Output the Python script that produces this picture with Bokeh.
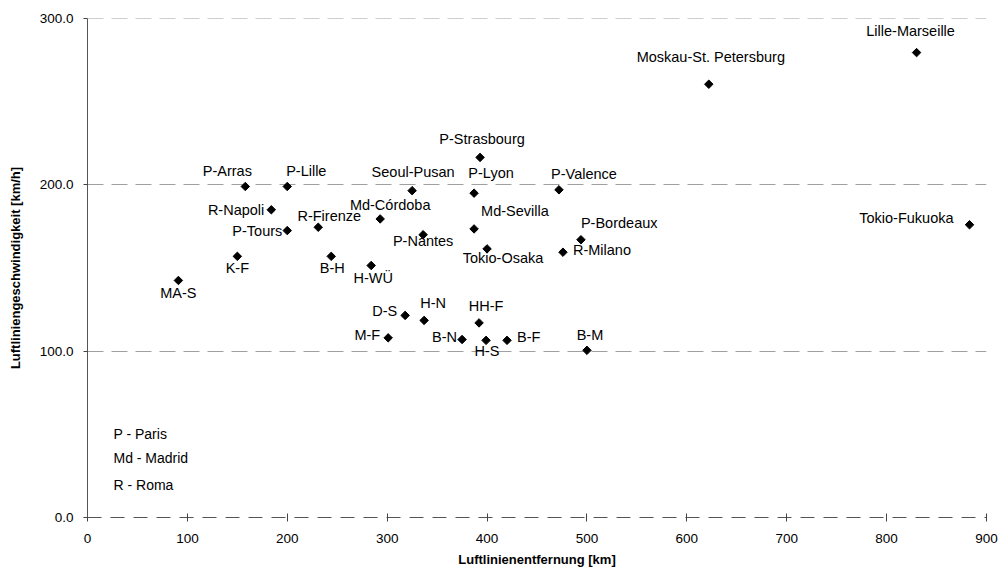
import numpy as np
from bokeh.plotting import figure
from bokeh.models import ColumnDataSource, Range1d, FixedTicker, PrintfTickFormatter, Label, Span
from bokeh.core.properties import value, field
from bokeh.embed import file_html
from bokeh.resources import INLINE

# ---- data ----
routes = ["MA-S", "K-F", "P-Arras", "P-Lille", "R-Napoli", "P-Tours", "R-Firenze", "B-H",
          "Seoul-Pusan", "P-Strasbourg", "P-Lyon", "P-Valence", "Md-Córdoba", "Md-Sevilla",
          "P-Nantes", "P-Bordeaux", "Tokio-Osaka", "R-Milano", "H-WÜ", "D-S", "H-N", "HH-F",
          "M-F", "B-N", "H-S", "B-F", "B-M", "Moskau-St. Petersburg", "Lille-Marseille",
          "Tokio-Fukuoka"]
distance_km = [91, 150, 158, 200, 184, 200, 231, 244,
               325, 393, 387, 472, 293, 387,
               336, 494, 400, 476, 284, 318, 337, 392,
               301, 375, 399, 420, 500, 622, 830,
               883]
speed_kmh = [142.5, 157, 199, 199, 185, 172.5, 174.5, 157,
             196.5, 216.5, 195, 197, 179.5, 173.5,
             170, 167, 161.5, 159.5, 151.5, 121.5, 118.5, 117,
             108, 107, 106.5, 106.5, 100.5, 260.5, 279.5,
             176]
x_ticks = [0, 100, 200, 300, 400, 500, 600, 700, 800, 900]
y_ticks = [0, 100, 200, 300]
notes = ["P - Paris", "Md - Madrid", "R - Roma"]

# ---- label layout (alignment, pixel offsets) ----
label_layout = {
    "MA-S": ("center", 0, 13), "K-F": ("center", 0, 12), "P-Arras": ("center", -18, -15),
    "P-Lille": ("center", 19, -15), "R-Napoli": ("right", -7, 0), "P-Tours": ("right", -5, 0),
    "R-Firenze": ("center", 11, -11), "B-H": ("center", 1, 12), "Seoul-Pusan": ("center", 1, -19),
    "P-Strasbourg": ("center", 2, -18), "P-Lyon": ("center", 17, -20), "P-Valence": ("center", 25, -16),
    "Md-Córdoba": ("center", 10, -14), "Md-Sevilla": ("left", 7, -18), "P-Nantes": ("center", 0, 6),
    "P-Bordeaux": ("left", 0, -17), "Tokio-Osaka": ("center", 16, 9), "R-Milano": ("left", 10, -2),
    "H-WÜ": ("center", 2, 12), "D-S": ("right", -8, -4), "H-N": ("center", 9, -17),
    "HH-F": ("center", 7, -17), "M-F": ("right", -8, -3), "B-N": ("right", -5, -3),
    "H-S": ("center", 1, 11), "B-F": ("left", 10, -3), "B-M": ("center", 3, -15),
    "Moskau-St. Petersburg": ("center", 2, -27), "Lille-Marseille": ("center", -6, -22),
    "Tokio-Fukuoka": ("right", -16, -7),
}

FONT = "Liberation Sans"
GRID_COLOR = "#a0a0a0"
GRID_DASH = "16 8"

src = ColumnDataSource(dict(
    x=distance_km, y=speed_kmh, name=routes,
    align=[label_layout[r][0] for r in routes],
    dx=[label_layout[r][1] for r in routes],
    dy=[label_layout[r][2] for r in routes],
))

p = figure(width=1000, height=571, x_range=Range1d(0, 900), y_range=Range1d(0, 300),
           output_backend="svg", toolbar_location=None,
           min_border_left=87, min_border_right=14, min_border_top=18, min_border_bottom=54)
p.outline_line_color = None
p.background_fill_color = "white"
p.border_fill_color = "white"

p.xgrid.grid_line_color = None
p.ygrid.grid_line_color = GRID_COLOR
p.ygrid.grid_line_dash = GRID_DASH
p.ygrid.grid_line_width = 1
# top gridline at the range end (would otherwise be clipped at frame edge)
p.add_layout(Span(location=y_ticks[-1], dimension="width", line_color=GRID_COLOR,
                  line_dash=GRID_DASH, line_width=1))

p.xaxis.ticker = FixedTicker(ticks=x_ticks)
p.yaxis.ticker = FixedTicker(ticks=y_ticks)
p.yaxis.formatter = PrintfTickFormatter(format="%.1f")
p.xaxis.minor_tick_line_color = None
p.yaxis.minor_tick_line_color = None

p.xaxis.axis_label = "Luftlinienentfernung [km]"
p.yaxis.axis_label = "Luftliniengeschwindigkeit [km/h]"
for ax in (p.xaxis[0], p.yaxis[0]):
    ax.axis_label_text_font = FONT
    ax.axis_label_text_font_style = "bold"
    ax.axis_label_text_font_size = "13px"
    ax.axis_label_text_color = "black"
    ax.major_label_text_font = FONT
    ax.major_label_text_font_size = "13.5px"
    ax.major_label_text_color = "black"
    ax.major_tick_line_color = "#444444"
    ax.axis_line_color = "#555555"

p.xaxis.major_tick_in = 4
p.xaxis.major_tick_out = 4
p.xaxis.major_label_standoff = 12
p.xaxis.axis_label_standoff = 6
p.xaxis.axis_line_dash = "14 9"

p.yaxis.major_tick_in = 0
p.yaxis.major_tick_out = 4
p.yaxis.major_label_standoff = 10
p.yaxis.axis_label_standoff = 14

p.scatter("x", "y", source=src, marker="square", angle=np.pi / 4, size=6,
          fill_color="black", line_color="black")

p.text("x", "y", text="name", source=src, x_offset="dx", y_offset="dy",
       text_align=field("align"), text_baseline="middle",
       text_font=value(FONT), text_font_size=value("14.5px"), text_color="black")

note_y = [50, 35.5, 19.8]
for t, yy in zip(notes, note_y):
    p.add_layout(Label(x=26, y=yy, text=t, text_baseline="middle", text_align="left",
                       text_font=FONT, text_font_size="14px", text_color="black"))

open("out.html", "w").write(file_html(p, INLINE))
